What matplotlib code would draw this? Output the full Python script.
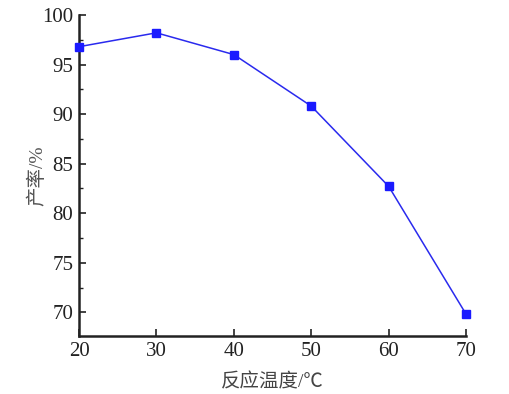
import matplotlib
matplotlib.use("Agg")
import matplotlib.pyplot as plt
from matplotlib.ticker import MultipleLocator

plt.rcParams['font.family'] = ['Liberation Serif', 'Noto Sans CJK SC']
plt.rcParams['axes.unicode_minus'] = False

temps = [20, 30, 40, 50, 60, 70]
yields = [96.8, 98.2, 96.0, 90.8, 82.7, 69.8]

fig = plt.figure(figsize=(5.10, 3.94), dpi=100)
ax = fig.add_axes([0.155, 0.147, 0.759, 0.815])
ax.plot(temps, yields, color='#2a2aee', lw=1.1, marker='s', ms=5.5,
        mfc='#1a1aff', mec='#1a1aff', clip_on=False, zorder=5)
ax.set_xlim(20, 70)
ax.set_ylim(67.6, 100)
ax.set_xticks(temps)
ax.yaxis.set_major_locator(MultipleLocator(5))
ax.yaxis.set_minor_locator(MultipleLocator(2.5))
ax.spines['top'].set_visible(False)
ax.spines['right'].set_visible(False)
for s in ['left', 'bottom']:
    ax.spines[s].set_linewidth(1.8)
    ax.spines[s].set_color('#222222')
ax.tick_params(axis='both', which='major', direction='in', length=5, width=1.2,
               labelsize=15, colors='#222222', pad=4)
ax.tick_params(axis='y', which='minor', direction='in', length=3, width=1.0,
               colors='#222222')
ax.set_xlabel('反应温度/℃', fontsize=14, color='#444444', labelpad=9)
ax.set_ylabel('产率/%', fontsize=14, color='#555555', labelpad=-3)
fig.savefig('out.png', dpi=100)
